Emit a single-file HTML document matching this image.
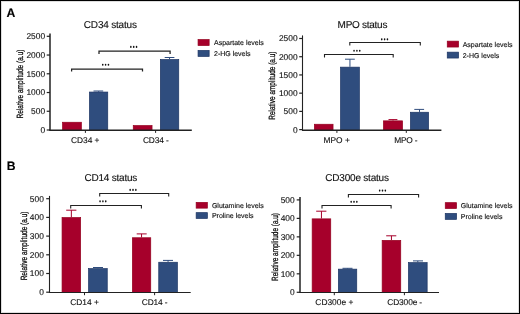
<!DOCTYPE html>
<html><head><meta charset="utf-8"><style>
html,body{margin:0;padding:0;background:#fff;width:520px;height:314px;overflow:hidden;}
#w{position:relative;width:520px;height:314px;box-sizing:border-box;border:1px solid #000;background:#fff;overflow:hidden;box-shadow:inset 0 0 0 1px rgba(0,0,0,0.13);}
svg{position:absolute;left:-1px;top:-1px;will-change:transform;}
text{font-family:"Liberation Sans",sans-serif;fill:#111;stroke:#111;stroke-width:0.13px;text-rendering:geometricPrecision;}
.t{font-size:10px;}
.tk{font-size:8.4px;}
.lg{font-size:7px;}
.st{font-size:6.5px;font-weight:bold;}
.yl{font-size:9px;stroke-width:0.3px;}
.pl{font-size:12.2px;font-weight:bold;fill:#000;}
.ax{stroke:#222;stroke-width:1;fill:none;}
.br{stroke:#222;stroke-width:1.1;fill:none;}
</style></head><body><div id="w">
<svg width="520" height="314" viewBox="0 0 520 314">
<text x="6.6" y="16.7" class="pl">A</text>
<text x="6.7" y="169.6" class="pl">B</text>
<text x="110.35" y="27.8" class="t" text-anchor="middle" textLength="53.1" lengthAdjust="spacing">CD34 status</text>
<line x1="46.7" y1="130" x2="50" y2="130" class="ax" style="stroke-width:1.2px"/>
<text x="45.1" y="132.95" class="tk" text-anchor="end">0</text>
<line x1="46.7" y1="111.26" x2="50" y2="111.26" class="ax" style="stroke-width:1.2px"/>
<text x="45.1" y="114.21" class="tk" text-anchor="end">500</text>
<line x1="46.7" y1="92.52" x2="50" y2="92.52" class="ax" style="stroke-width:1.2px"/>
<text x="45.1" y="95.47" class="tk" text-anchor="end">1000</text>
<line x1="46.7" y1="73.78" x2="50" y2="73.78" class="ax" style="stroke-width:1.2px"/>
<text x="45.1" y="76.73" class="tk" text-anchor="end">1500</text>
<line x1="46.7" y1="55.04" x2="50" y2="55.04" class="ax" style="stroke-width:1.2px"/>
<text x="45.1" y="57.99" class="tk" text-anchor="end">2000</text>
<line x1="46.7" y1="36.3" x2="50" y2="36.3" class="ax" style="stroke-width:1.2px"/>
<text x="45.1" y="39.25" class="tk" text-anchor="end">2500</text>
<line x1="85.4" y1="130.2" x2="85.4" y2="132.9" class="ax"/>
<text x="85.2" y="142.7" class="tk" text-anchor="middle">CD34 +</text>
<line x1="155.6" y1="130.2" x2="155.6" y2="132.9" class="ax"/>
<text x="155.9" y="142.7" class="tk" text-anchor="middle" textLength="25.9" lengthAdjust="spacing">CD34 -</text>
<rect x="62.55" y="122.25" width="18.8" height="7.95" fill="#a6002b" stroke="#94001f" stroke-width="0.7"/>
<line x1="98.6" y1="91" x2="98.6" y2="91.7" stroke="#2f4d7e" stroke-width="1"/>
<line x1="93.5" y1="91" x2="103.2" y2="91" stroke="#2f4d7e" stroke-width="1"/>
<rect x="89.45" y="92.05" width="18.3" height="38.15" fill="#2f4d7e" stroke="#1c3463" stroke-width="0.7"/>
<rect x="133.25" y="125.55" width="18.8" height="4.65" fill="#a6002b" stroke="#94001f" stroke-width="0.7"/>
<line x1="169.55" y1="57.5" x2="169.55" y2="59.2" stroke="#2f4d7e" stroke-width="1"/>
<line x1="164.7" y1="57.5" x2="174.4" y2="57.5" stroke="#2f4d7e" stroke-width="1"/>
<rect x="160.35" y="59.55" width="18.4" height="70.65" fill="#2f4d7e" stroke="#1c3463" stroke-width="0.7"/>
<line x1="50" y1="33.6" x2="50" y2="130.2" class="ax" style="stroke-width:1.5px"/>
<line x1="49.25" y1="130.2" x2="191.8" y2="130.2" class="ax" style="stroke-width:1.5px"/>
<path d="M99 53.9V51H170.1V53.9" class="br" style="stroke-width:1.25px"/>
<ellipse cx="130.85" cy="46.95" rx="0.8" ry="1.1" fill="#111"/>
<ellipse cx="133.7" cy="46.95" rx="0.8" ry="1.1" fill="#111"/>
<ellipse cx="136.55" cy="46.95" rx="0.8" ry="1.1" fill="#111"/>
<path d="M71.6 71.5V69H142.5V71.5" class="br" style="stroke-width:1.25px"/>
<ellipse cx="102.75" cy="64.75" rx="0.8" ry="1.1" fill="#111"/>
<ellipse cx="105.6" cy="64.75" rx="0.8" ry="1.1" fill="#111"/>
<ellipse cx="108.45" cy="64.75" rx="0.8" ry="1.1" fill="#111"/>
<rect x="198.05" y="39.55" width="11.1" height="6" fill="#a6002b" stroke="#94001f" stroke-width="0.7"/>
<text x="214" y="45" class="lg">Aspartate levels</text>
<rect x="198.05" y="50.45" width="11.1" height="6" fill="#2f4d7e" stroke="#1c3463" stroke-width="0.7"/>
<text x="214" y="55.9" class="lg">2-HG levels</text>
<text transform="translate(22.6 84) rotate(-90)" class="yl" text-anchor="middle" textLength="68.9" lengthAdjust="spacingAndGlyphs">Relative amplitude (a.u)</text>
<text x="362.5" y="27.8" class="t" text-anchor="middle" textLength="49.8" lengthAdjust="spacing">MPO status</text>
<line x1="299.2" y1="129.6" x2="302.5" y2="129.6" class="ax" style="stroke-width:1.2px"/>
<text x="297.6" y="132.55" class="tk" text-anchor="end">0</text>
<line x1="299.2" y1="111.38" x2="302.5" y2="111.38" class="ax" style="stroke-width:1.2px"/>
<text x="297.6" y="114.33" class="tk" text-anchor="end">500</text>
<line x1="299.2" y1="93.16" x2="302.5" y2="93.16" class="ax" style="stroke-width:1.2px"/>
<text x="297.6" y="96.11" class="tk" text-anchor="end">1000</text>
<line x1="299.2" y1="74.94" x2="302.5" y2="74.94" class="ax" style="stroke-width:1.2px"/>
<text x="297.6" y="77.89" class="tk" text-anchor="end">1500</text>
<line x1="299.2" y1="56.72" x2="302.5" y2="56.72" class="ax" style="stroke-width:1.2px"/>
<text x="297.6" y="59.67" class="tk" text-anchor="end">2000</text>
<line x1="299.2" y1="38.5" x2="302.5" y2="38.5" class="ax" style="stroke-width:1.2px"/>
<text x="297.6" y="41.45" class="tk" text-anchor="end">2500</text>
<line x1="336.9" y1="130.2" x2="336.9" y2="132.9" class="ax"/>
<text x="336.7" y="142.7" class="tk" text-anchor="middle">MPO +</text>
<line x1="406.3" y1="130.2" x2="406.3" y2="132.9" class="ax"/>
<text x="405.9" y="142.7" class="tk" text-anchor="middle" textLength="23.1" lengthAdjust="spacing">MPO -</text>
<rect x="314.35" y="124.25" width="18.7" height="5.95" fill="#a6002b" stroke="#94001f" stroke-width="0.7"/>
<line x1="349.95" y1="59.2" x2="349.95" y2="66.8" stroke="#2f4d7e" stroke-width="1"/>
<line x1="345" y1="59.2" x2="354.8" y2="59.2" stroke="#2f4d7e" stroke-width="1"/>
<rect x="340.55" y="67.15" width="18.8" height="63.05" fill="#2f4d7e" stroke="#1c3463" stroke-width="0.7"/>
<line x1="393" y1="119.6" x2="393" y2="120.5" stroke="#a6002b" stroke-width="1"/>
<line x1="388.5" y1="119.6" x2="397.4" y2="119.6" stroke="#a6002b" stroke-width="1"/>
<rect x="383.45" y="120.85" width="19.1" height="9.35" fill="#a6002b" stroke="#94001f" stroke-width="0.7"/>
<line x1="419.5" y1="109.4" x2="419.5" y2="111.9" stroke="#2f4d7e" stroke-width="1"/>
<line x1="414.3" y1="109.4" x2="424.1" y2="109.4" stroke="#2f4d7e" stroke-width="1"/>
<rect x="410.45" y="112.25" width="18.1" height="17.95" fill="#2f4d7e" stroke="#1c3463" stroke-width="0.7"/>
<line x1="302.5" y1="35.4" x2="302.5" y2="130.2" class="ax" style="stroke-width:1.1px"/>
<line x1="301.95" y1="130.2" x2="441.4" y2="130.2" class="ax" style="stroke-width:1.5px"/>
<path d="M349.8 45.5V42.5H420.3V45.5" class="br" style="stroke-width:1.1px"/>
<ellipse cx="381.75" cy="39.35" rx="0.8" ry="1.1" fill="#111"/>
<ellipse cx="384.6" cy="39.35" rx="0.8" ry="1.1" fill="#111"/>
<ellipse cx="387.45" cy="39.35" rx="0.8" ry="1.1" fill="#111"/>
<path d="M324.5 57.5V54.5H393.2V57.5" class="br" style="stroke-width:1.1px"/>
<ellipse cx="354.05" cy="50.75" rx="0.8" ry="1.1" fill="#111"/>
<ellipse cx="356.9" cy="50.75" rx="0.8" ry="1.1" fill="#111"/>
<ellipse cx="359.75" cy="50.75" rx="0.8" ry="1.1" fill="#111"/>
<rect x="447.25" y="41.15" width="11.3" height="5.9" fill="#a6002b" stroke="#94001f" stroke-width="0.7"/>
<text x="462.7" y="46.5" class="lg">Aspartate levels</text>
<rect x="447.25" y="52.15" width="11.3" height="5.9" fill="#2f4d7e" stroke="#1c3463" stroke-width="0.7"/>
<text x="462.7" y="57.5" class="lg">2-HG levels</text>
<text transform="translate(275.3 85.65) rotate(-90)" class="yl" text-anchor="middle" textLength="68.2" lengthAdjust="spacingAndGlyphs">Relative amplitude (a.u)</text>
<text x="110.9" y="180.75" class="t" text-anchor="middle" textLength="52.8" lengthAdjust="spacing">CD14 status</text>
<line x1="46.2" y1="292.2" x2="49.5" y2="292.2" class="ax" style="stroke-width:1.2px"/>
<text x="43.8" y="295.15" class="tk" text-anchor="end">0</text>
<line x1="46.2" y1="273.5" x2="49.5" y2="273.5" class="ax" style="stroke-width:1.2px"/>
<text x="43.8" y="276.45" class="tk" text-anchor="end">100</text>
<line x1="46.2" y1="254.8" x2="49.5" y2="254.8" class="ax" style="stroke-width:1.2px"/>
<text x="43.8" y="257.75" class="tk" text-anchor="end">200</text>
<line x1="46.2" y1="236.1" x2="49.5" y2="236.1" class="ax" style="stroke-width:1.2px"/>
<text x="43.8" y="239.05" class="tk" text-anchor="end">300</text>
<line x1="46.2" y1="217.4" x2="49.5" y2="217.4" class="ax" style="stroke-width:1.2px"/>
<text x="43.8" y="220.35" class="tk" text-anchor="end">400</text>
<line x1="46.2" y1="198.7" x2="49.5" y2="198.7" class="ax" style="stroke-width:1.2px"/>
<text x="43.8" y="201.65" class="tk" text-anchor="end">500</text>
<line x1="84.5" y1="292.5" x2="84.5" y2="295.2" class="ax"/>
<text x="84.6" y="305" class="tk" text-anchor="middle">CD14 +</text>
<line x1="154.6" y1="292.5" x2="154.6" y2="295.2" class="ax"/>
<text x="154.6" y="305" class="tk" text-anchor="middle" textLength="25.7" lengthAdjust="spacing">CD14 -</text>
<line x1="71.35" y1="210.2" x2="71.35" y2="217.2" stroke="#a6002b" stroke-width="1"/>
<line x1="66.2" y1="210.2" x2="76.4" y2="210.2" stroke="#a6002b" stroke-width="1"/>
<rect x="62.05" y="217.55" width="18.6" height="74.95" fill="#a6002b" stroke="#94001f" stroke-width="0.7"/>
<line x1="97.9" y1="267.5" x2="97.9" y2="268.3" stroke="#2f4d7e" stroke-width="1"/>
<line x1="93" y1="267.5" x2="103" y2="267.5" stroke="#2f4d7e" stroke-width="1"/>
<rect x="88.55" y="268.65" width="18.7" height="23.85" fill="#2f4d7e" stroke="#1c3463" stroke-width="0.7"/>
<line x1="141.55" y1="233.9" x2="141.55" y2="237.4" stroke="#a6002b" stroke-width="1"/>
<line x1="136.7" y1="233.9" x2="146.7" y2="233.9" stroke="#a6002b" stroke-width="1"/>
<rect x="132.35" y="237.75" width="18.4" height="54.75" fill="#a6002b" stroke="#94001f" stroke-width="0.7"/>
<line x1="168.05" y1="260.4" x2="168.05" y2="261.9" stroke="#2f4d7e" stroke-width="1"/>
<line x1="163" y1="260.4" x2="173" y2="260.4" stroke="#2f4d7e" stroke-width="1"/>
<rect x="158.75" y="262.25" width="18.6" height="30.25" fill="#2f4d7e" stroke="#1c3463" stroke-width="0.7"/>
<line x1="49.5" y1="195.9" x2="49.5" y2="292.5" class="ax" style="stroke-width:1.1px"/>
<line x1="48.95" y1="292.5" x2="190.7" y2="292.5" class="ax" style="stroke-width:1.1px"/>
<path d="M99.7 196.5V193.5H168.7V196.5" class="br" style="stroke-width:1.1px"/>
<ellipse cx="130.15" cy="189.95" rx="0.8" ry="1.1" fill="#111"/>
<ellipse cx="133" cy="189.95" rx="0.8" ry="1.1" fill="#111"/>
<ellipse cx="135.85" cy="189.95" rx="0.8" ry="1.1" fill="#111"/>
<path d="M70.7 208.5V205.5H141.4V208.5" class="br" style="stroke-width:1.1px"/>
<ellipse cx="100.05" cy="201.35" rx="0.8" ry="1.1" fill="#111"/>
<ellipse cx="102.9" cy="201.35" rx="0.8" ry="1.1" fill="#111"/>
<ellipse cx="105.75" cy="201.35" rx="0.8" ry="1.1" fill="#111"/>
<rect x="196.15" y="202.35" width="11.2" height="5.8" fill="#a6002b" stroke="#94001f" stroke-width="0.7"/>
<text x="211.9" y="207.6" class="lg">Glutamine levels</text>
<rect x="196.15" y="212.65" width="11.2" height="5.8" fill="#2f4d7e" stroke="#1c3463" stroke-width="0.7"/>
<text x="211.9" y="217.9" class="lg">Proline levels</text>
<text transform="translate(26.8 245.95) rotate(-90)" class="yl" text-anchor="middle" textLength="68.8" lengthAdjust="spacingAndGlyphs">Relative amplitude (a.u)</text>
<text x="357.1" y="180.8" class="t" text-anchor="middle" textLength="63.6" lengthAdjust="spacing">CD300e status</text>
<line x1="296.7" y1="292.3" x2="300" y2="292.3" class="ax" style="stroke-width:1.2px"/>
<text x="294.7" y="295.25" class="tk" text-anchor="end">0</text>
<line x1="296.7" y1="273.82" x2="300" y2="273.82" class="ax" style="stroke-width:1.2px"/>
<text x="294.7" y="276.77" class="tk" text-anchor="end">100</text>
<line x1="296.7" y1="255.34" x2="300" y2="255.34" class="ax" style="stroke-width:1.2px"/>
<text x="294.7" y="258.29" class="tk" text-anchor="end">200</text>
<line x1="296.7" y1="236.86" x2="300" y2="236.86" class="ax" style="stroke-width:1.2px"/>
<text x="294.7" y="239.81" class="tk" text-anchor="end">300</text>
<line x1="296.7" y1="218.38" x2="300" y2="218.38" class="ax" style="stroke-width:1.2px"/>
<text x="294.7" y="221.33" class="tk" text-anchor="end">400</text>
<line x1="296.7" y1="199.9" x2="300" y2="199.9" class="ax" style="stroke-width:1.2px"/>
<text x="294.7" y="202.85" class="tk" text-anchor="end">500</text>
<line x1="334.3" y1="292.5" x2="334.3" y2="295.2" class="ax"/>
<text x="334.35" y="304.8" class="tk" text-anchor="middle">CD300e +</text>
<line x1="404.4" y1="292.5" x2="404.4" y2="295.2" class="ax"/>
<text x="404.7" y="304.8" class="tk" text-anchor="middle" textLength="34.9" lengthAdjust="spacing">CD300e -</text>
<line x1="321.45" y1="211.2" x2="321.45" y2="218.5" stroke="#a6002b" stroke-width="1"/>
<line x1="316.2" y1="211.2" x2="326.4" y2="211.2" stroke="#a6002b" stroke-width="1"/>
<rect x="312.15" y="218.85" width="18.6" height="73.65" fill="#a6002b" stroke="#94001f" stroke-width="0.7"/>
<line x1="347.55" y1="268.3" x2="347.55" y2="268.8" stroke="#2f4d7e" stroke-width="1"/>
<line x1="342.5" y1="268.3" x2="352.5" y2="268.3" stroke="#2f4d7e" stroke-width="1"/>
<rect x="338.35" y="269.15" width="18.4" height="23.35" fill="#2f4d7e" stroke="#1c3463" stroke-width="0.7"/>
<line x1="391.45" y1="235.8" x2="391.45" y2="240" stroke="#a6002b" stroke-width="1"/>
<line x1="386.2" y1="235.8" x2="396.3" y2="235.8" stroke="#a6002b" stroke-width="1"/>
<rect x="382.15" y="240.35" width="18.6" height="52.15" fill="#a6002b" stroke="#94001f" stroke-width="0.7"/>
<line x1="417.8" y1="260.9" x2="417.8" y2="262.3" stroke="#2f4d7e" stroke-width="1"/>
<line x1="413" y1="260.9" x2="423" y2="260.9" stroke="#2f4d7e" stroke-width="1"/>
<rect x="408.45" y="262.65" width="18.7" height="29.85" fill="#2f4d7e" stroke="#1c3463" stroke-width="0.7"/>
<line x1="300" y1="197" x2="300" y2="292.5" class="ax" style="stroke-width:1.5px"/>
<line x1="299.25" y1="292.5" x2="439" y2="292.5" class="ax" style="stroke-width:1.1px"/>
<path d="M348.4 197.5V194.5H418.6V197.5" class="br" style="stroke-width:1.1px"/>
<ellipse cx="379.65" cy="190.55" rx="0.8" ry="1.1" fill="#111"/>
<ellipse cx="382.5" cy="190.55" rx="0.8" ry="1.1" fill="#111"/>
<ellipse cx="385.35" cy="190.55" rx="0.8" ry="1.1" fill="#111"/>
<path d="M322 208.6V205.5H391.1V208.6" class="br" style="stroke-width:1.1px"/>
<ellipse cx="351.15" cy="201.85" rx="0.8" ry="1.1" fill="#111"/>
<ellipse cx="354" cy="201.85" rx="0.8" ry="1.1" fill="#111"/>
<ellipse cx="356.85" cy="201.85" rx="0.8" ry="1.1" fill="#111"/>
<rect x="445.25" y="202.65" width="11.3" height="5.9" fill="#a6002b" stroke="#94001f" stroke-width="0.7"/>
<text x="460.8" y="208" class="lg">Glutamine levels</text>
<rect x="445.25" y="213.45" width="11.3" height="5.9" fill="#2f4d7e" stroke="#1c3463" stroke-width="0.7"/>
<text x="460.8" y="218.8" class="lg">Proline levels</text>
<text transform="translate(277.6 247) rotate(-90)" class="yl" text-anchor="middle" textLength="67.9" lengthAdjust="spacingAndGlyphs">Relative amplitude (a.u)</text>
</svg></div></body></html>
